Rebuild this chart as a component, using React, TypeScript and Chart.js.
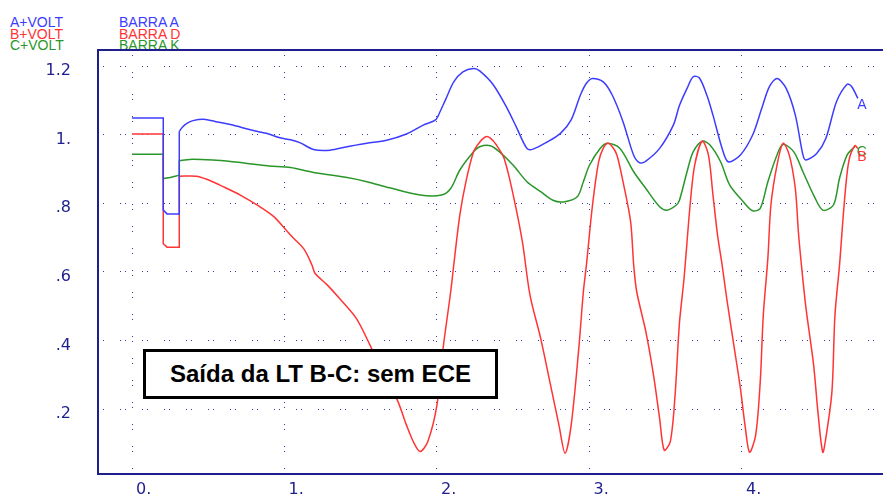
import React, { useEffect, useRef } from 'react';
import { Chart, registerables } from 'chart.js';

Chart.register(...registerables);

// ---- data (time in s, voltage in pu) ----
const blueT = [0, 0.205, 0.205, 0.23, 0.31, 0.31, 0.33, 0.36, 0.40, 0.47, 0.55, 0.66, 0.77, 0.88, 0.97, 1.04, 1.10, 1.19, 1.30, 1.41, 1.54, 1.67, 1.80, 1.91, 1.99, 2.02, 2.06, 2.11, 2.17, 2.24, 2.28, 2.37, 2.46, 2.52, 2.59, 2.63, 2.72, 2.81, 2.88, 2.94, 2.98, 3.02, 3.09, 3.15, 3.22, 3.29, 3.33, 3.37, 3.46, 3.55, 3.59, 3.64, 3.68, 3.72, 3.77, 3.81, 3.87, 3.91, 3.99, 4.07, 4.13, 4.18, 4.23, 4.29, 4.35, 4.40, 4.42, 4.49, 4.55, 4.62, 4.69, 4.72, 4.76];
const blueV = [1.049, 1.049, 0.780, 0.769, 0.769, 1.009, 1.022, 1.033, 1.041, 1.045, 1.038, 1.028, 1.015, 1.004, 0.991, 0.985, 0.977, 0.957, 0.955, 0.965, 0.975, 0.984, 1.002, 1.028, 1.043, 1.067, 1.106, 1.154, 1.183, 1.193, 1.186, 1.145, 1.077, 1.023, 0.960, 0.958, 0.978, 1.004, 1.043, 1.115, 1.150, 1.164, 1.154, 1.115, 1.038, 0.940, 0.918, 0.923, 0.960, 1.028, 1.085, 1.135, 1.169, 1.166, 1.115, 1.057, 0.960, 0.921, 0.941, 0.999, 1.077, 1.140, 1.164, 1.135, 1.057, 0.941, 0.926, 0.945, 0.989, 1.096, 1.147, 1.140, 1.106];

const redT = [0, 0.205, 0.205, 0.23, 0.31, 0.31, 0.42, 0.49, 0.60, 0.71, 0.82, 0.93, 1.01, 1.06, 1.13, 1.18, 1.20, 1.28, 1.36, 1.47, 1.56, 1.65, 1.74, 1.80, 1.85, 1.89, 1.94, 2.00, 2.04, 2.09, 2.11, 2.15, 2.19, 2.24, 2.28, 2.32, 2.35, 2.39, 2.44, 2.50, 2.56, 2.61, 2.68, 2.74, 2.80, 2.84, 2.88, 2.93, 2.96, 2.98, 3.02, 3.06, 3.09, 3.12, 3.15, 3.18, 3.22, 3.27, 3.29, 3.31, 3.37, 3.42, 3.46, 3.49, 3.53, 3.56, 3.59, 3.62, 3.66, 3.69, 3.74, 3.78, 3.81, 3.84, 3.87, 3.90, 3.95, 3.99, 4.02, 4.05, 4.09, 4.12, 4.14, 4.17, 4.19, 4.23, 4.27, 4.31, 4.35, 4.37, 4.39, 4.42, 4.47, 4.50, 4.53, 4.55, 4.59, 4.61, 4.64, 4.67, 4.70, 4.74, 4.76];
const redV = [1.002, 1.002, 0.682, 0.672, 0.672, 0.879, 0.879, 0.870, 0.848, 0.824, 0.795, 0.761, 0.722, 0.698, 0.665, 0.620, 0.596, 0.562, 0.523, 0.465, 0.387, 0.300, 0.226, 0.153, 0.100, 0.076, 0.105, 0.212, 0.377, 0.542, 0.620, 0.766, 0.863, 0.950, 0.978, 0.994, 0.990, 0.970, 0.931, 0.824, 0.688, 0.532, 0.406, 0.280, 0.153, 0.071, 0.153, 0.377, 0.542, 0.620, 0.795, 0.921, 0.960, 0.975, 0.965, 0.941, 0.863, 0.746, 0.620, 0.542, 0.425, 0.299, 0.173, 0.080, 0.105, 0.231, 0.450, 0.580, 0.795, 0.911, 0.981, 0.941, 0.824, 0.707, 0.620, 0.523, 0.377, 0.260, 0.153, 0.074, 0.124, 0.280, 0.474, 0.640, 0.795, 0.911, 0.975, 0.941, 0.843, 0.717, 0.620, 0.494, 0.328, 0.183, 0.074, 0.115, 0.250, 0.474, 0.620, 0.795, 0.921, 0.968, 0.960];

const greenT = [0, 0.205, 0.205, 0.25, 0.31, 0.31, 0.38, 0.53, 0.66, 0.80, 0.90, 1.04, 1.19, 1.41, 1.54, 1.69, 1.89, 2.03, 2.09, 2.15, 2.24, 2.28, 2.35, 2.41, 2.50, 2.59, 2.68, 2.76, 2.83, 2.92, 2.96, 3.00, 3.07, 3.12, 3.20, 3.29, 3.37, 3.46, 3.51, 3.57, 3.59, 3.64, 3.68, 3.74, 3.79, 3.86, 3.92, 4.01, 4.07, 4.12, 4.17, 4.23, 4.27, 4.34, 4.40, 4.47, 4.53, 4.60, 4.64, 4.69, 4.74];
const greenV = [0.943, 0.943, 0.872, 0.875, 0.882, 0.924, 0.928, 0.926, 0.921, 0.914, 0.909, 0.904, 0.890, 0.875, 0.863, 0.845, 0.824, 0.824, 0.843, 0.897, 0.950, 0.965, 0.968, 0.950, 0.911, 0.863, 0.834, 0.809, 0.804, 0.819, 0.863, 0.911, 0.960, 0.975, 0.960, 0.892, 0.843, 0.790, 0.780, 0.795, 0.809, 0.892, 0.950, 0.981, 0.970, 0.921, 0.853, 0.804, 0.778, 0.785, 0.863, 0.941, 0.972, 0.950, 0.892, 0.824, 0.780, 0.795, 0.873, 0.941, 0.965];

// time at which the fault is cleared (end of the stepped part of each trace)
const clearingTime = 0.31;

const xTickValues = [0, 1, 2, 3, 4];
const xTickLabels = ['0.', '1.', '2.', '3.', '4.'];
const yTickValues = [0.2, 0.4, 0.6, 0.8, 1.0, 1.2];
const yTickLabels = ['.2', '.4', '.6', '.8', '1.', '1.2'];
const legendVars = ['A+VOLT', 'B+VOLT', 'C+VOLT'];
const legendBuses = ['BARRA A', 'BARRA D', 'BARRA K'];
const curveLabels = ['A', 'B', 'C'];
const annotationText = 'Saída da LT B-C: sem ECE';

// ---- styles ----
const W = 883;
const H = 495;
const BLUE = '#3c3cff';
const RED = '#ff3434';
const GREEN = '#2a962a';
const NAVY = '#1e1e8e';
const GRID = '#3a3aa6';
const seriesColors = [BLUE, RED, GREEN];
const labelOffsets = [
  { dx: 4, dy: 7 },
  { dx: 4, dy: 9 },
  { dx: 7, dy: 5 },
];

const toPts = (t: number[], v: number[]) => t.map((x, i) => ({ x, y: v[i] }));
const splitAt = (t: number[]) => t.lastIndexOf(clearingTime);

const framePlugin = {
  id: 'frame',
  afterDraw(chart: any) {
    const { ctx, chartArea: a } = chart;
    ctx.save();
    ctx.strokeStyle = NAVY;
    ctx.lineWidth = 2;
    ctx.beginPath();
    ctx.moveTo(W + 2, a.top);
    ctx.lineTo(a.left, a.top);
    ctx.lineTo(a.left, a.bottom);
    ctx.lineTo(W + 2, a.bottom);
    ctx.stroke();
    ctx.restore();
  },
};

const curveLabelPlugin = {
  id: 'curveLabels',
  afterDatasetsDraw(chart: any) {
    const { ctx } = chart;
    ctx.save();
    ctx.font = '14px "Liberation Sans", Arial, sans-serif';
    ctx.textAlign = 'center';
    ctx.textBaseline = 'middle';
    [2, 1, 0].forEach((di) => {
      const meta = chart.getDatasetMeta(di + 3);
      const last = meta.data[meta.data.length - 1];
      if (!last) return;
      ctx.fillStyle = seriesColors[di];
      ctx.fillText(curveLabels[di], last.x + labelOffsets[di].dx, last.y + labelOffsets[di].dy);
    });
    ctx.restore();
  },
};

export default function App() {
  const ref = useRef<HTMLCanvasElement | null>(null);

  useEffect(() => {
    document.body.style.margin = '0';
    const canvas = ref.current;
    if (!canvas) return;
    const tickFont = { family: '"DejaVu Sans", Verdana, sans-serif', size: 16 };
    const series = [
      { t: blueT, v: blueV, c: BLUE },
      { t: redT, v: redV, c: RED },
      { t: greenT, v: greenV, c: GREEN },
    ];
    const base = { showLine: true, pointRadius: 0, borderWidth: 1.5, fill: false };
    const stepped = series.map((s) => {
      const k = splitAt(s.t);
      return { ...base, data: toPts(s.t.slice(0, k + 1), s.v.slice(0, k + 1)), borderColor: s.c, tension: 0 };
    });
    const smooth = series.map((s) => {
      const k = splitAt(s.t);
      return { ...base, data: toPts(s.t.slice(k), s.v.slice(k)), borderColor: s.c, tension: 0.3 };
    });
    const chart = new Chart(canvas, {
      type: 'scatter',
      data: { datasets: [...stepped, ...smooth] as any },
      options: {
        responsive: false,
        animation: false,
        devicePixelRatio: 1,
        layout: { padding: { top: 50, left: 0, right: 0, bottom: 0 } },
        plugins: { legend: { display: false }, tooltip: { enabled: false } },
        scales: {
          x: {
            type: 'linear',
            min: -0.223,
            max: 4.925,
            afterBuildTicks: (s: any) => {
              s.ticks = xTickValues.map((v) => ({ value: v }));
            },
            afterFit: (s: any) => {
              s.height = H - 474;
              s.paddingLeft = 0;
              s.paddingRight = 0;
            },
            grid: { color: GRID, lineWidth: 1, drawTicks: false },
            border: { display: false, dash: [1, 4, 1, 16] },
            ticks: {
              align: 'start',
              padding: 6,
              labelOffset: 4,
              color: NAVY,
              font: tickFont,
              maxRotation: 0,
              autoSkip: false,
              callback: (_v: any, i: number) => xTickLabels[i],
            },
          },
          y: {
            type: 'linear',
            min: 0.0105,
            max: 1.247,
            afterBuildTicks: (s: any) => {
              s.ticks = yTickValues.map((v) => ({ value: v }));
            },
            afterFit: (s: any) => {
              s.width = 98;
              s.paddingTop = 0;
              s.paddingBottom = 0;
            },
            grid: { color: GRID, lineWidth: 1, drawTicks: false },
            border: { display: false, dash: [1, 4, 1, 16] },
            ticks: {
              padding: 27,
              labelOffset: 5,
              color: NAVY,
              font: tickFont,
              autoSkip: false,
              callback: (_v: any, i: number) => yTickLabels[i],
            },
          },
        },
      } as any,
      plugins: [framePlugin, curveLabelPlugin],
    });
    return () => chart.destroy();
  }, []);

  const legendFont: React.CSSProperties = {
    position: 'absolute',
    fontFamily: '"Liberation Sans", Arial, sans-serif',
    fontSize: 14,
    lineHeight: '14px',
    whiteSpace: 'nowrap',
  };
  const lineTops = [15.4, 27.1, 37.6];

  return (
    <div style={{ position: 'relative', width: W, height: H, background: '#ffffff', overflow: 'hidden' }}>
      {legendVars.map((t, i) => (
        <div key={'v' + i} style={{ ...legendFont, left: 10, top: lineTops[i], color: seriesColors[i] }}>{t}</div>
      ))}
      {legendBuses.map((t, i) => (
        <div key={'b' + i} style={{ ...legendFont, left: 119, top: lineTops[i], color: seriesColors[i] }}>{t}</div>
      ))}
      <canvas ref={ref} width={W} height={H} style={{ position: 'absolute', left: 0, top: 0, display: 'block', width: W, height: H }} />
      <div
        style={{
          position: 'absolute',
          left: 143,
          top: 349,
          width: 355,
          height: 50,
          boxSizing: 'border-box',
          border: '3px solid #000',
          background: '#fff',
          display: 'flex',
          alignItems: 'center',
          justifyContent: 'center',
          fontFamily: '"Liberation Sans", Arial, sans-serif',
          fontWeight: 'bold',
          fontSize: 24,
          color: '#000',
          whiteSpace: 'nowrap',
        }}
      >
        {annotationText}
      </div>
    </div>
  );
}
